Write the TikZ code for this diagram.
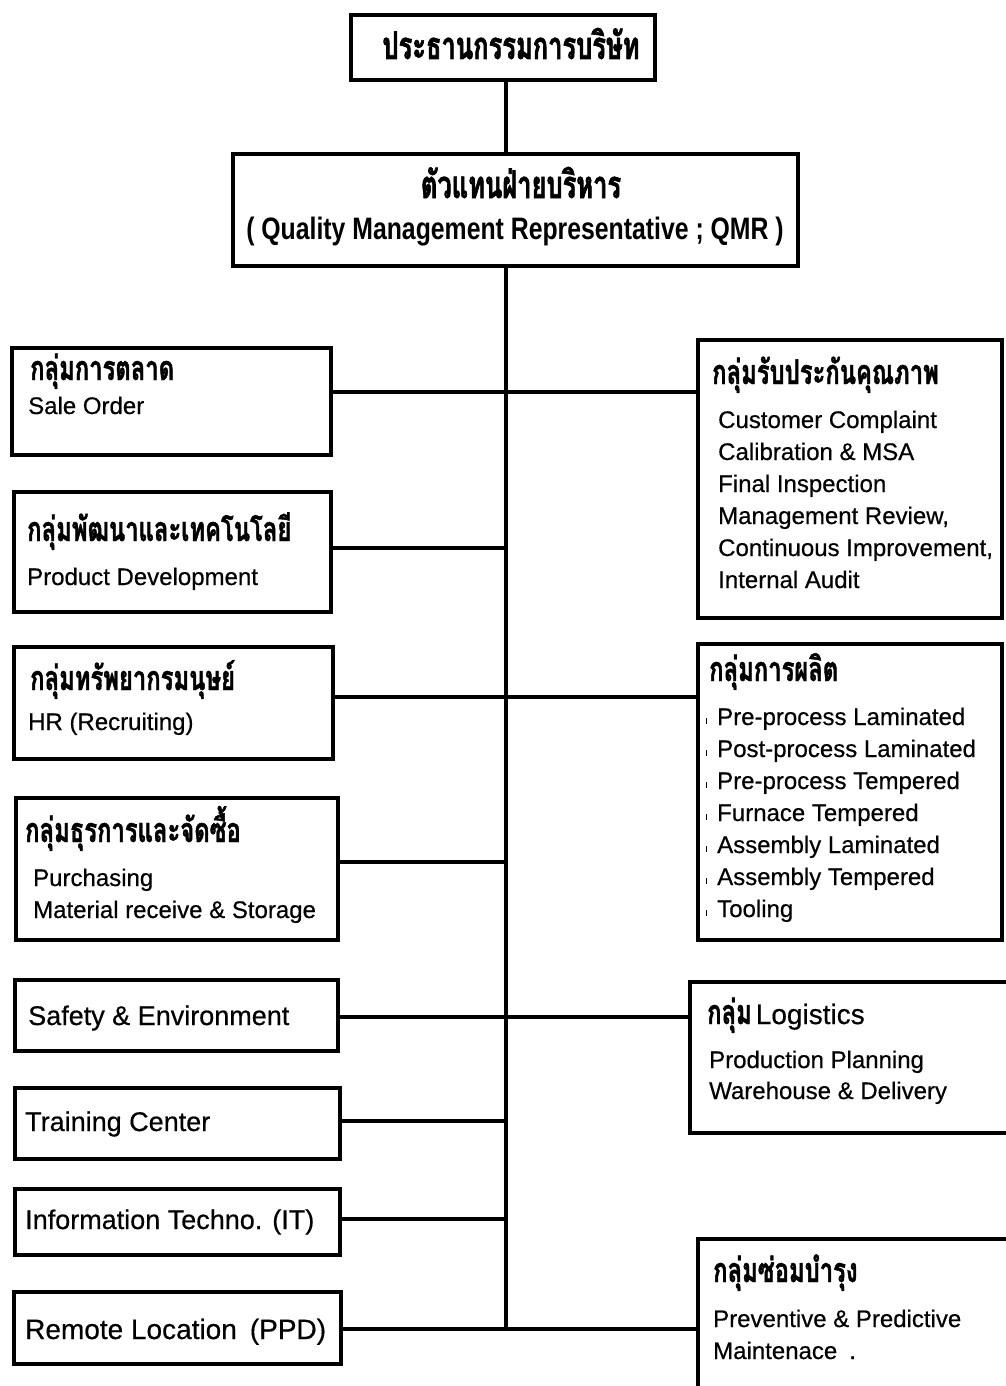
\documentclass[tikz,border=0pt]{standalone}
\usepackage{fontspec}
\setmainfont{Liberation Sans}[FakeBold=0.6]
\newfontfamily\enfont{Liberation Sans}[FakeBold=0.5]
\newfontfamily\thaihd[Script=Thai,FakeStretch=0.7,FakeBold=1.2]{Loma}
\newfontfamily\thaitop[Script=Thai,FakeStretch=0.67,FakeBold=1.6]{Loma}
\newfontfamily\qmrfont{Liberation Sans Bold}[FakeStretch=0.8]
\begin{document}
\begin{tikzpicture}[x=1pt,y=-1pt,
  box/.style={draw, line width=4pt, inner sep=0pt, outer sep=0pt},
  link/.style={line width=4pt},
  thhead/.style={anchor=base west, inner sep=0pt, font=\thaihd\bfseries\fontsize{34}{38}\selectfont},
  thtop/.style={anchor=base, inner sep=0pt, font=\thaitop\bfseries\fontsize{38}{42}\selectfont},
  en/.style={anchor=base west, inner sep=0pt, font=\enfont\fontsize{24}{28}\selectfont},
  enbig/.style={anchor=base west, inner sep=0pt, font=\enfont\fontsize{27}{32}\selectfont}]

\clip (0,0) rectangle (1006,1386);
\fill[white] (0,0) rectangle (1006,1386);

% boxes
\node[box, minimum width=304pt, minimum height=65pt]  (top) at (503,47.5) {};
\node[box, minimum width=565pt, minimum height=112pt] (qmr) at (515.5,210) {};
\node[box, minimum width=319pt, minimum height=107pt] (L1) at (171.5,401.5) {};
\node[box, minimum width=317pt, minimum height=120pt] (L2) at (172.5,552) {};
\node[box, minimum width=319pt, minimum height=112pt] (L3) at (173.5,703) {};
\node[box, minimum width=322pt, minimum height=142pt] (L4) at (177,869) {};
\node[box, minimum width=323pt, minimum height=71pt]  (L5) at (176.5,1015.5) {};
\node[box, minimum width=325pt, minimum height=71pt]  (L6) at (177.5,1123.5) {};
\node[box, minimum width=325pt, minimum height=66pt]  (L7) at (177.5,1222) {};
\node[box, minimum width=327pt, minimum height=72pt]  (L8) at (177.5,1328) {};
\node[box, minimum width=304pt, minimum height=278pt] (R1) at (850,479) {};
\node[box, minimum width=304pt, minimum height=296pt] (R2) at (850,792) {};
\node[box, minimum width=322pt, minimum height=151pt] (R3) at (851,1057.5) {};
\node[box, minimum width=314pt, minimum height=161pt] (R4) at (855,1319.5) {};

% junctions on the trunk
\coordinate (j1) at (506,392);
\coordinate (j2) at (506,548);
\coordinate (j3) at (506,697);
\coordinate (j4) at (506,862);
\coordinate (j5) at (506,1017);
\coordinate (j6) at (506,1121);
\coordinate (j7) at (506,1219);
\coordinate (j8) at (506,1329);

% trunk
\draw[link] (top.south -| j8) -- (qmr.north -| j8);
\draw[link] (qmr.south -| j8) -- (j8);

% branches
\draw[link] (L1.east |- j1) -- (R1.west |- j1);
\draw[link] (L2.east |- j2) -- (j2);
\draw[link] (L3.east |- j3) -- (R2.west |- j3);
\draw[link] (L4.east |- j4) -- (j4);
\draw[link] (L5.east |- j5) -- (R3.west |- j5);
\draw[link] (L6.east |- j6) -- (j6);
\draw[link] (L7.east |- j7) -- (j7);
\draw[link] (L8.east |- j8) -- (R4.west |- j8);

% top texts
\node[thtop] (ttop) at (511,59) {ประธานกรรมการบริษัท};
\node[thtop] (tqmr1) at (521,198) {ตัวแทนฝ่ายบริหาร};
\node[font=\qmrfont\fontsize{31}{36}\selectfont, inner sep=0pt] (tqmr2) at (515,232) {( Quality Management Representative ; QMR )};

% left column texts
\node[thhead] (tl1a) at (30,380) {กลุ่มการตลาด};
\node[en] (tl1b) at (28,414) {Sale Order};
\node[thhead] (tl2a) at (27,541) {กลุ่มพัฒนาและเทคโนโลยี};
\node[en] (tl2b) at (27,585) {Product Development};
\node[thhead] (tl3a) at (30,690) {กลุ่มทรัพยากรมนุษย์};
\node[en] (tl3b) at (28,730) {HR (Recruiting)};
\node[thhead] (tl4a) at (25,842) {กลุ่มธุรการและจัดซื้อ};
\node[en] (tl4b) at (33,886) {Purchasing};
\node[en] (tl4c) at (33,918) {Material receive \& Storage};
\node[enbig] (tl5) at (28,1025) {Safety \& Environment};
\node[enbig] (tl6) at (25,1131) {Training Center};
\node[enbig] (tl7) at (25,1229) {Information Techno. (IT)};
\node[enbig, font=\enfont\fontsize{28}{32}\selectfont] (tl8) at (25,1339) {Remote Location\hspace{13pt}(PPD)};

% right column texts
\node[thhead] (tr1a) at (712,384) {กลุ่มรับประกันคุณภาพ};
\foreach \t [count=\i] in {Customer Complaint, Calibration \& MSA, Final Inspection,
    {Management Review,}, {Continuous Improvement,}, Internal Audit}
  \node[en] (tr1l\i) at (718,{428+32*(\i-1)}) {\t};

\node[thhead] (tr2a) at (709,681) {กลุ่มการผลิต};
\foreach \t [count=\i] in {Pre-process Laminated, Post-process Laminated, Pre-process Tempered,
    Furnace Tempered, Assembly Laminated, Assembly Tempered, Tooling}
  \node[en] (tr2l\i) at (706,{725+32*(\i-1)}) {\rule[1pt]{1.2pt}{6pt}\hspace{9.8pt}\t};

\node[thhead] (tr3a) at (707,1024) {กลุ่ม\hspace{4pt}{\enfont\mdseries\fontsize{28}{32}\selectfont Logistics}};
\node[en] (tr3b) at (709,1068) {Production Planning};
\node[en] (tr3c) at (709,1099) {Warehouse \& Delivery};

\node[thhead] (tr4a) at (713,1282) {กลุ่มซ่อมบำรุง};
\node[en] (tr4b) at (713,1327) {Preventive \& Predictive};
\node[en] (tr4c) at (713,1359) {Maintenace\hspace{12pt}.};
\end{tikzpicture}
\end{document}
